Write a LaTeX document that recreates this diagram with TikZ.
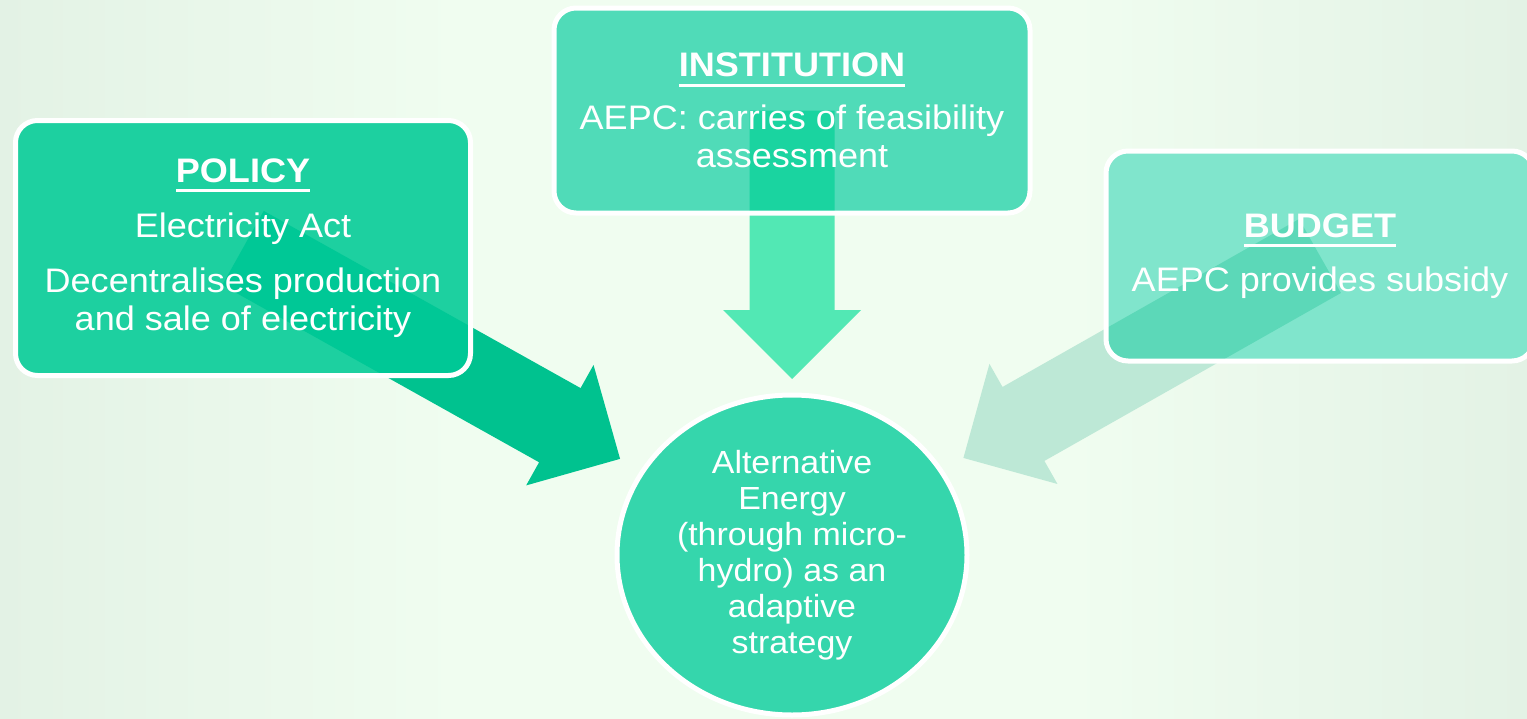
\documentclass[tikz,border=0pt]{standalone}
\usepackage{fontspec}
\setmainfont{Liberation Sans}[FakeStretch=1.06]
\usetikzlibrary{positioning,calc,shapes.geometric}

\pgfdeclarelayer{back}
\pgfdeclarelayer{mid}
\pgfsetlayers{back,mid,main}

\definecolor{bgmid}{HTML}{F0FDF0}
\definecolor{bgedge}{HTML}{E3F2E5}
\definecolor{polfill}{HTML}{1DD0A0}
\definecolor{polarrow}{HTML}{00C28F}
\definecolor{polover}{HTML}{00C896}
\definecolor{instfill}{HTML}{50DBB8}
\definecolor{instarrow}{HTML}{52E8B4}
\definecolor{instover}{HTML}{1AD4A0}
\definecolor{budfill}{HTML}{80E5CC}
\definecolor{budarrow}{HTML}{BDE8D6}
\definecolor{budover}{HTML}{5CD8B8}
\definecolor{goalfill}{HTML}{35D6AC}

\pgfdeclarehorizontalshading{pageshade}{100bp}{color(0bp)=(bgedge); color(25bp)=(bgedge); color(40bp)=(bgmid); color(60bp)=(bgmid); color(75bp)=(bgedge); color(100bp)=(bgedge)}

% underlined bold heading
\newcommand{\boxhead}[1]{{\bfseries\setbox0\hbox{#1}\rlap{\rule[-10pt]{\wd0}{3pt}}\box0}}

% block arrow from #1 to tip #2
\newcommand{\blockarrow}[3]{%
    \coordinate (head) at ($(#2)!69pt!(#1)$);
    \fill[#3] ($(#1)!42.5pt!90:(#2)$) -- ($(head)!42.5pt!90:(#2)$) -- ($(head)!69pt!90:(#2)$) -- (#2)
        -- ($(head)!69pt!-90:(#2)$) -- ($(head)!42.5pt!-90:(#2)$) -- ($(#1)!42.5pt!-90:(#2)$) -- cycle;}

\begin{document}
\begin{tikzpicture}[x=1pt, y=1pt,
        infonode/.style={rectangle, inner sep=0pt, outer sep=0pt, align=center, text=white,
            font=\fontsize{34}{38}\selectfont},
        goalnode/.style={ellipse, inner sep=0pt, outer sep=0pt, fill=goalfill, draw=white, line width=5pt,
            align=center, text=white, font=\fontsize{32}{36}\selectfont},
        boxshape/.style={rounded corners=22pt},
    ]
    \useasboundingbox (0,0) rectangle (1527,-718);

    \node[goalnode, minimum width=350pt, minimum height=320pt] (goal) at (792,-555)
        {Alternative\\ Energy\\ (through micro-\\ hydro) as an\\ adaptive\\ strategy};
    \node[infonode, minimum width=455pt, minimum height=255pt] (pol) at (243,-248)
        {\boxhead{POLICY}\\[17pt] Electricity Act\\[17pt] Decentralises production\\ and sale of electricity};
    \node[infonode, minimum width=476pt, minimum height=205pt] (inst) [above=182pt of goal]
        {\boxhead{INSTITUTION}\\[15pt] AEPC: carries of feasibility\\ assessment};
    \node[infonode, minimum width=428pt, minimum height=210pt] (bud) at (1320,-256)
        {\boxhead{BUDGET}\\[16pt] AEPC provides subsidy};

    \coordinate (poltip)  at ($(goal.center)!197pt!(pol.center)$);
    \coordinate (insttip) at ($(goal.center)!176pt!(inst.center)$);
    \coordinate (budtip)  at ($(goal.center)!197pt!(bud.center)$);

    \begin{pgfonlayer}{back}
        \shade[shading=pageshade] (0,0) rectangle (1527,-718);
        \blockarrow{pol.center}{poltip}{polarrow}
        \blockarrow{inst.center}{insttip}{instarrow}
        \blockarrow{bud.center}{budtip}{budarrow}
    \end{pgfonlayer}

    \begin{pgfonlayer}{mid}
        \fill[boxshape, polfill]  (pol.south west)  rectangle (pol.north east);
        \fill[boxshape, instfill] (inst.south west) rectangle (inst.north east);
        \fill[boxshape, budfill]  (bud.south west)  rectangle (bud.north east);
        \begin{scope}
            \clip[boxshape] (pol.south west) rectangle (pol.north east);
            \blockarrow{pol.center}{poltip}{polover}
        \end{scope}
        \begin{scope}
            \clip[boxshape] (inst.south west) rectangle (inst.north east);
            \blockarrow{inst.center}{insttip}{instover}
        \end{scope}
        \begin{scope}
            \clip[boxshape] (bud.south west) rectangle (bud.north east);
            \blockarrow{bud.center}{budtip}{budover}
        \end{scope}
        \draw[boxshape, white, line width=5pt] (pol.south west)  rectangle (pol.north east);
        \draw[boxshape, white, line width=5pt] (inst.south west) rectangle (inst.north east);
        \draw[boxshape, white, line width=5pt] (bud.south west)  rectangle (bud.north east);
    \end{pgfonlayer}
\end{tikzpicture}
\end{document}
